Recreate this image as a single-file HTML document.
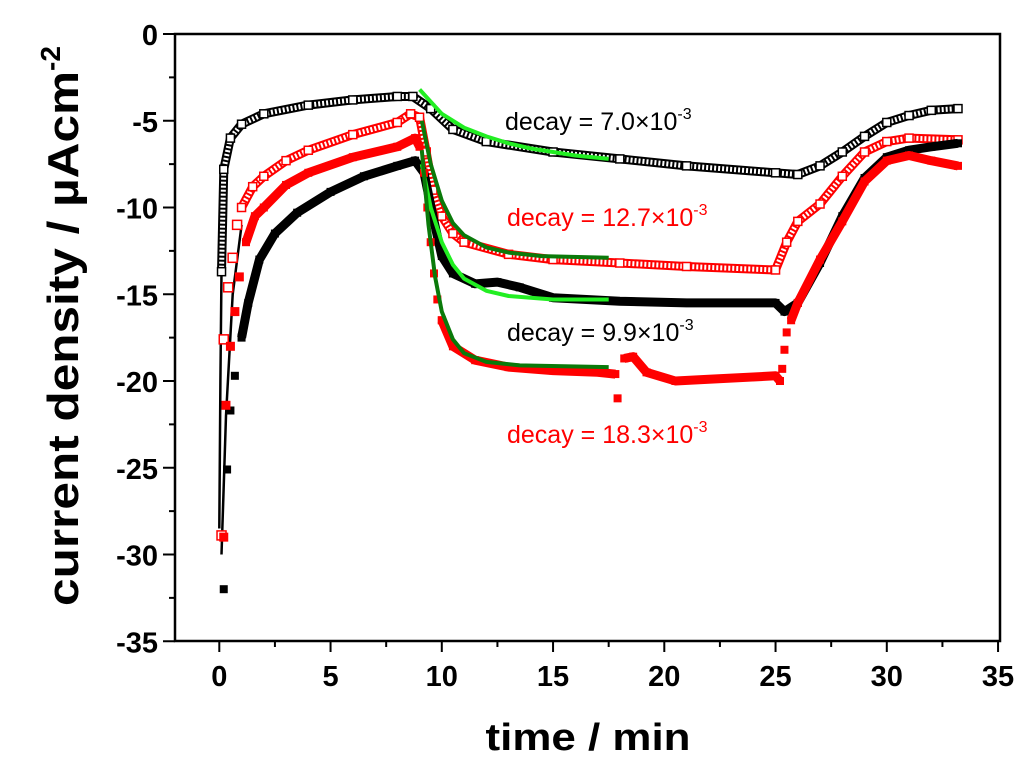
<!DOCTYPE html>
<html><head><meta charset="utf-8"><style>
html,body{margin:0;padding:0;background:#fff;}
svg{display:block;font-family:"Liberation Sans",Arial,sans-serif;}
</style></head><body>
<svg id="chart" width="1024" height="761" viewBox="0 0 1024 761">
<g id="plot"></g>
<g id="axes"></g>
<text x="588" y="750" text-anchor="middle" font-size="38" font-weight="bold" textLength="205" lengthAdjust="spacingAndGlyphs">time / min</text>
<text transform="translate(78,326) rotate(-90)" text-anchor="middle" font-size="44" font-weight="bold"><tspan textLength="535" lengthAdjust="spacingAndGlyphs">current density / µAcm</tspan><tspan dy="-18" font-size="28">-2</tspan></text>
<text x="505" y="130" font-size="25" fill="#000">decay = 7.0×10<tspan dy="-11" font-size="16">-3</tspan></text>
<text x="507" y="226" font-size="25" fill="#ff0000">decay = 12.7×10<tspan dy="-11" font-size="16">-3</tspan></text>
<text x="507" y="341" font-size="25" fill="#000">decay = 9.9×10<tspan dy="-11" font-size="16">-3</tspan></text>
<text x="507" y="443" font-size="25" fill="#ff0000">decay = 18.3×10<tspan dy="-11" font-size="16">-3</tspan></text>
</svg>
<script>
const xTicks=[0,5,10,15,20,25,30,35];
const yTicks=[0,-5,-10,-15,-20,-25,-30,-35];
const blackOpenT=[0.1,0.2,0.5,1,2,4,6,8,8.7,9.5,10.5,12,15,18,21,25,26,27,28,29,30,31,32,33.2];
const blackOpenV=[-13.7,-7.8,-6,-5.2,-4.6,-4.1,-3.8,-3.6,-3.6,-4.3,-5.5,-6.2,-6.8,-7.2,-7.6,-8,-8.1,-7.6,-6.8,-5.9,-5.1,-4.7,-4.4,-4.3];
const redOpenEarlyT=[0.1,0.2,0.4,0.6,0.8];
const redOpenEarlyV=[-28.9,-17.6,-14.6,-12.9,-11];
const redOpenT=[1,1.5,2,3,4,6,8,8.6,9,9.3,9.6,10,10.5,11,13,15,18,21,25,25.5,26,27,28,29,30,31,33.2];
const redOpenV=[-10,-8.8,-8.2,-7.3,-6.7,-5.8,-5.1,-4.6,-4.8,-6.8,-9,-10.5,-11.5,-12,-12.7,-13,-13.2,-13.4,-13.6,-12,-10.8,-9.8,-8.2,-6.8,-6.2,-6,-6.1];
const redFillEarlyT=[0.2,0.3,0.5,0.7,0.9];
const redFillEarlyV=[-29,-21.4,-18,-16,-14];
const redFillT=[1.2,1.6,2,3,4,6,8,8.8,9];
const redFillV=[-12,-10.5,-10,-8.7,-8,-7.1,-6.5,-6,-6.5];
const redDropT=[9.2,9.35,9.5,9.65,9.8,10];
const redDropV=[-8,-10,-12,-13.8,-15.3,-16.5];
const redFill1T=[10,10.5,11.5,13,15,17,17.8];
const redFill1V=[-16.5,-18,-18.8,-19.2,-19.4,-19.5,-19.6];
const redFill2T=[18.2,18.6,19.2,20.5,22,25,25.2];
const redFill2V=[-18.7,-18.6,-19.5,-20,-19.9,-19.7,-20];
const redRiseT=[17.9,25.3,25.4,25.5];
const redRiseV=[-21,-19.3,-18.2,-17.2];
const redFill3T=[25.7,26,27,28,29,30,31,32,33.2];
const redFill3V=[-16.5,-15.5,-13,-10.8,-8.5,-7.3,-7,-7.3,-7.6];
const blackFillEarlyT=[0.2,0.35,0.5,0.7];
const blackFillEarlyV=[-32,-25.1,-21.7,-19.7];
const blackFillT=[1,1.3,1.8,2.5,3.5,5,6.5,8,8.8,9.2,9.6,10,10.5,11.5,12.5,13.5,15,18,21,25,25.4,26,27,28,29,30,31,32,33.2];
const blackFillV=[-17.5,-15.5,-13,-11.5,-10.3,-9.1,-8.2,-7.6,-7.3,-8,-10.5,-12.8,-13.8,-14.4,-14.3,-14.6,-15.2,-15.4,-15.5,-15.5,-16,-15.5,-13.2,-10.5,-8.3,-7.1,-6.7,-6.5,-6.3];
const fit1T=[9,9.5,10,11,12,13,14,15,16,17.5];
const fit1V=[-3.2,-3.9,-4.6,-5.4,-5.9,-6.3,-6.6,-6.8,-7.0,-7.2];
const fit2T=[9.1,9.5,10,10.5,11,12,13,14.5,17.5];
const fit2V=[-5,-7.5,-9.6,-10.9,-11.6,-12.3,-12.6,-12.8,-12.9];
const fit3T=[9.1,9.5,10,10.5,11,12,13,15,17.5];
const fit3V=[-7.5,-10,-12,-13.3,-14.1,-14.8,-15.1,-15.3,-15.3];
const fit4T=[9.1,9.4,9.7,10,10.5,11,12,13.5,17.5];
const fit4V=[-6.7,-11,-14,-16,-17.6,-18.4,-18.9,-19.1,-19.2];

const NS='http://www.w3.org/2000/svg';
const X0=175,X1=1000,Y0=34,Y1=641;
const sx=t=>219.3+t*22.25;
const sy=v=>Y0-v*17.35;
const plot=document.getElementById('plot');
const axes=document.getElementById('axes');
function mk(tag,attrs,parent){const e=document.createElementNS(NS,tag);for(const k in attrs)e.setAttribute(k,attrs[k]);parent.appendChild(e);return e;}
function pts(T,V){return T.map((t,i)=>sx(t).toFixed(1)+','+sy(V[i]).toFixed(1)).join(' ');}
function markers(T,V,color,name,open,size){
  T.forEach((t,i)=>{
    const r=mk('rect',{x:sx(t)-size/2,y:sy(V[i])-size/2,width:size,height:size,fill:open?'#fff':color,stroke:color,'stroke-width':open?1.5:0},plot);
    
    
  });
}
function band(T,V,color,name,open){
  const p=mk('polyline',{points:pts(T,V),fill:'none',stroke:color,'stroke-width':open?9:9,'stroke-linejoin':'round'},plot);
  
  
  if(open){
    const q=mk('polyline',{points:pts(T,V),fill:'none',stroke:'#fff','stroke-width':5,'stroke-linejoin':'round','stroke-dasharray':'2 2'},plot);
    
    
  }
  markers(T,V,color,name,open,8);
}
const sl=mk('polyline',{points:pts([0,0.05,0.1,0.2],[-28.5,-20,-13.7,-7.8]),fill:'none',stroke:'#000','stroke-width':2.5},plot);


const sl2=mk('polyline',{points:pts([0.1,0.3,0.6,1],[-30,-22,-15,-11]),fill:'none',stroke:'#000','stroke-width':2.5},plot);


band(blackOpenT,blackOpenV,'#000','series-black-open',true);
band(redOpenT,redOpenV,'#ff0000','series-red-open',true);
markers(redOpenEarlyT,redOpenEarlyV,'#ff0000','series-red-open-early',true,9);
band(blackFillT,blackFillV,'#000','series-black-filled',false);
markers(blackFillEarlyT,blackFillEarlyV,'#000','series-black-filled-early',false,8);
band(redFillT,redFillV,'#ff0000','series-red-filled',false);
markers(redFillEarlyT,redFillEarlyV,'#ff0000','series-red-filled-early',false,9);
markers(redDropT,redDropV,'#ff0000','series-red-filled-drop',false,8);
band(redFill1T,redFill1V,'#ff0000','series-red-filled-plateau',false);
band(redFill2T,redFill2V,'#ff0000','series-red-filled-mid',false);
markers(redRiseT,redRiseV,'#ff0000','series-red-filled-sparse',false,8);
band(redFill3T,redFill3V,'#ff0000','series-red-filled-end',false);
function fit(T,V,color,name){const f=mk('polyline',{points:pts(T,V),fill:'none',stroke:color,'stroke-width':4,'stroke-linejoin':'round'},plot);
  
  }
fit(fit1T,fit1V,'#22ee22','fit-decay-7');
fit(fit2T,fit2V,'#0a7a0a','fit-decay-12-7');
fit(fit3T,fit3V,'#22ee22','fit-decay-9-9');
fit(fit4T,fit4V,'#0a7a0a','fit-decay-18-3');
const fr=mk('rect',{x:X0,y:Y0,width:X1-X0,height:Y1-Y0,fill:'none',stroke:'#000','stroke-width':2.5},axes);


xTicks.forEach((t,i)=>{
  const x=sx(t);
  const l=mk('line',{x1:x,y1:Y1,x2:x,y2:Y1+11,stroke:'#000','stroke-width':2},axes);
  
  
  if(i<xTicks.length-1){const m=mk('line',{x1:sx(t+2.5),y1:Y1,x2:sx(t+2.5),y2:Y1+6,stroke:'#000','stroke-width':2},axes);
    
    }
  const tx=mk('text',{x:x,y:Y1+45,'text-anchor':'middle','font-size':29,'font-weight':'bold'},axes);
  tx.textContent=t;
  
  
});
yTicks.forEach((v,i)=>{
  const y=sy(v);
  const l=mk('line',{x1:X0-12,y1:y,x2:X0,y2:y,stroke:'#000','stroke-width':2},axes);
  
  
  if(i<yTicks.length-1){const m=mk('line',{x1:X0-6,y1:sy(v-2.5),x2:X0,y2:sy(v-2.5),stroke:'#000','stroke-width':2},axes);
    
    }
  const tx=mk('text',{x:X0-17,y:y+11,'text-anchor':'end','font-size':29,'font-weight':'bold'},axes);
  tx.textContent=v;
  
  
});
</script>
</body></html>
